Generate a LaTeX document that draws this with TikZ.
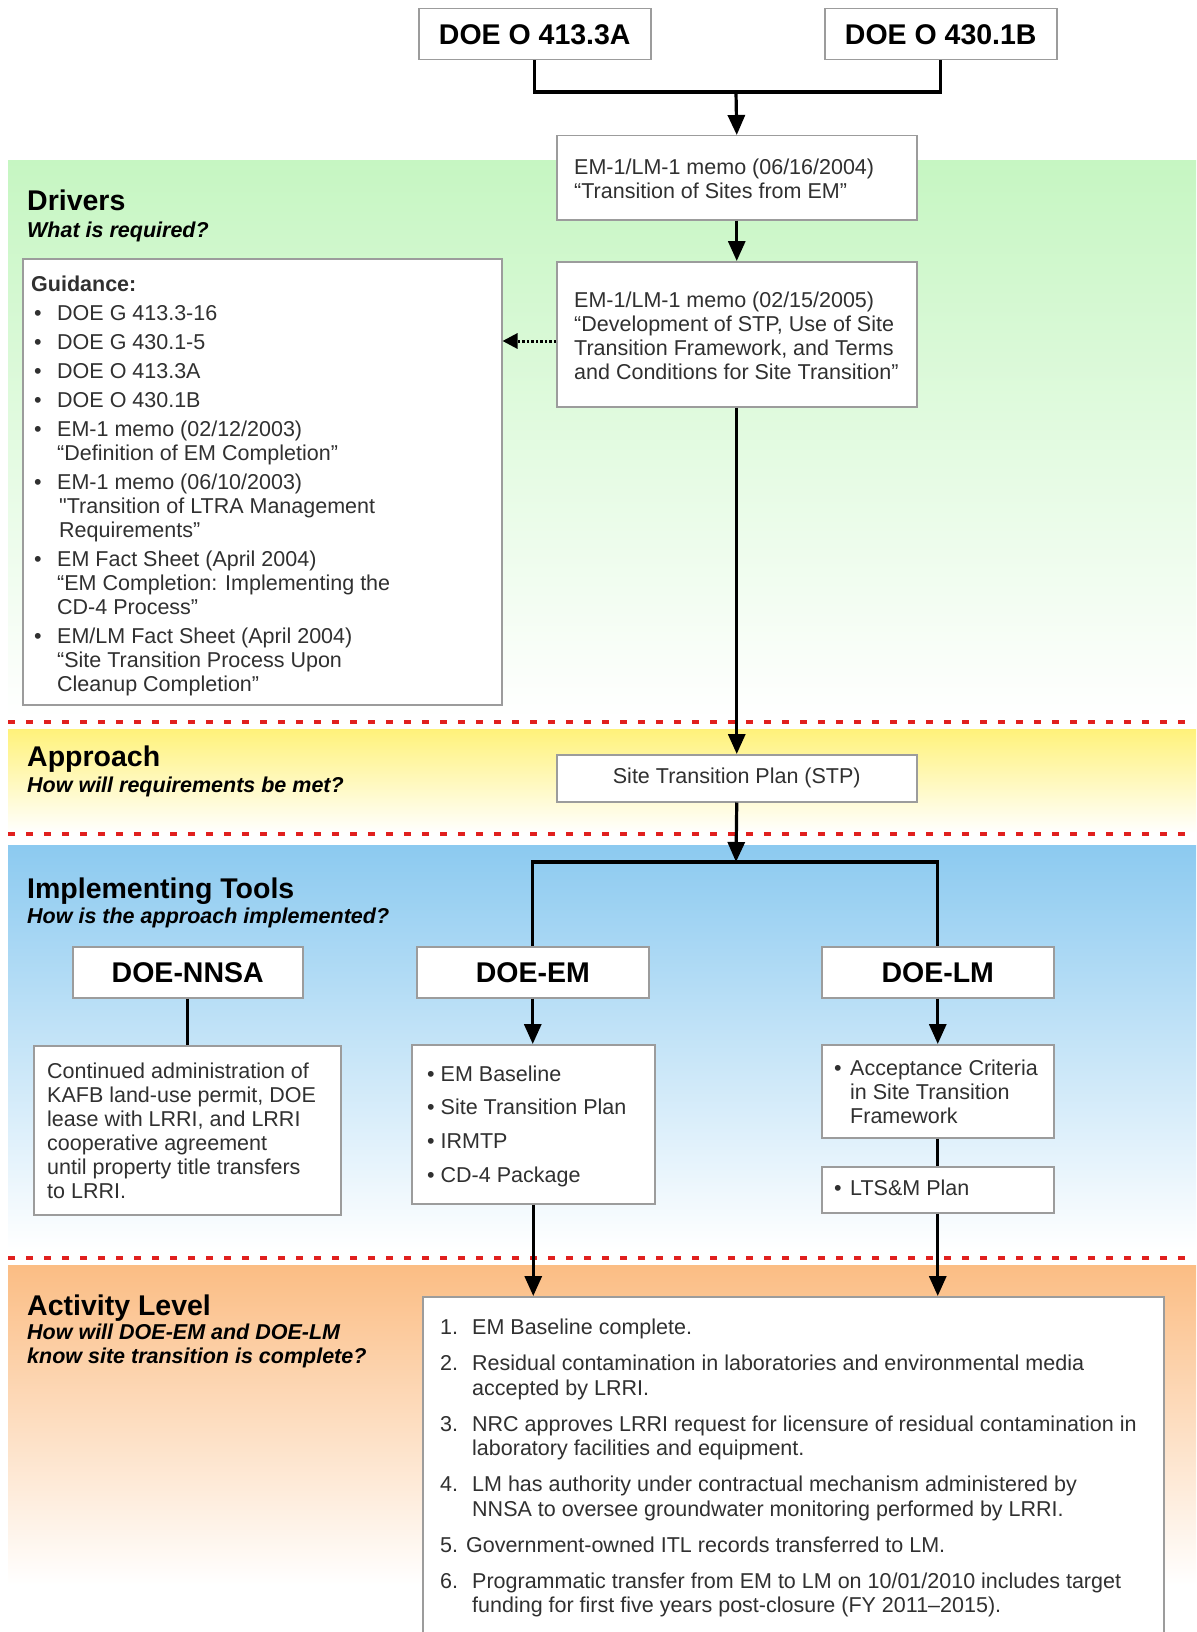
\documentclass[tikz,border=0pt]{standalone}
\usepackage{fontspec}
\setmainfont{Liberation Sans}
\newfontfamily\nomapfont{Liberation Sans}
\usetikzlibrary{arrows.meta}
\definecolor{boxgray}{HTML}{9C9C9C}
\definecolor{txtgray}{HTML}{303030}
\definecolor{dashred}{HTML}{E0201E}
\definecolor{bandgreen}{HTML}{C6F6C2}
\definecolor{bandyellow}{HTML}{FFF27A}
\definecolor{bandblue}{HTML}{8CCAF0}
\definecolor{bandorange}{HTML}{FBBD84}
\newcommand\bodyfs{\fontsize{21.5}{24}\selectfont}
\newcommand\titlefs{\fontsize{28.5}{32}\selectfont\bfseries}
\newcommand\subfs{\fontsize{21.5}{24}\selectfont\bfseries\itshape}
\newcommand\gbul{\makebox[26pt][l]{\hspace{3pt}\textbullet}}
\newcommand\gind{\hspace*{26pt}}
\newcommand\anum[1]{\makebox[32pt][l]{#1}}
\newcommand\aind{\hspace*{32pt}}
\newcommand\lbul{\makebox[16pt][l]{\textbullet}}
\begin{document}
\begin{tikzpicture}[x=1pt,y=-1pt,
  box/.style={draw=boxgray,line width=1.5pt,fill=white,inner sep=0pt,anchor=north west},
  titlebox/.style={box,font=\titlefs,text=black},
  txt/.style={inner sep=0pt,align=left,anchor=west,font=\bodyfs,text=txtgray},
  head/.style={inner sep=0pt,anchor=base west,font=\titlefs,text=black},
  subhead/.style={inner sep=0pt,anchor=base west,font=\subfs,text=black},
  conn/.style={line width=3.2pt,black,line join=miter},
  arr/.style={conn,-{Triangle[length=20pt,width=17pt]}},
  dotarr/.style={line width=3pt,black,dash pattern=on 2.5pt off 2pt,-{Triangle[length=15pt,width=15pt]}},
  reddash/.style={line width=3.5pt,dashred,dash pattern=on 7pt off 11pt}
]
\useasboundingbox (0,0) rectangle (1196,1632);
\clip (0,0) rectangle (1196,1632);
\fill[white] (0,0) rectangle (1196,1632);

% bands
\fill[top color=bandgreen,bottom color=white] (8,161) rectangle (1196,718);
\fill[top color=bandyellow,bottom color=white] (8,729) rectangle (1196,833);
\fill[top color=bandblue,bottom color=white] (8,845) rectangle (1196,1250);
\fill[top color=bandorange,bottom color=white] (8,1265) rectangle (1196,1585);

\draw[reddash] (8,722) -- (1196,722);
\draw[reddash] (8,834) -- (1196,834);
\draw[reddash] (8,1258) -- (1196,1258);

% headings
\node[head] (hdriv) at (27,211) {Drivers};
\node[subhead] (sdriv) at (27,237) {What is required?};
\node[head] (happ) at (27,766) {Approach};
\node[subhead] (sapp) at (27,792) {How will requirements be met?};
\node[head] (himp) at (27,898) {Implementing Tools};
\node[subhead] (simp) at (27,923.5) {How is the approach implemented?};
\node[head] (hact) at (27,1315) {Activity Level};
\node[subhead,anchor=north west,align=left] (sact) at (27,1324) {How will DOE-EM and DOE-LM\\know site transition is complete?};

% boxes
\node[titlebox,minimum width=232,minimum height=51] (A) at (418,8) {DOE O 413.3A};
\node[titlebox,minimum width=232,minimum height=51] (B) at (824,8) {DOE O 430.1B};
\node[box,minimum width=360,minimum height=84] (memoA) at (556,135) {};
\node[box,minimum width=360,minimum height=145] (memoB) at (556,261) {};
\node[box,minimum width=479,minimum height=446] (guid) at (22,258) {};
\node[box,minimum width=360,minimum height=47,font=\bodyfs,text=txtgray] (stp) at (556,754) {Site Transition Plan (STP)};
\node[titlebox,minimum width=230,minimum height=51] (nnsa) at (72,946) {DOE-NNSA};
\node[titlebox,minimum width=232,minimum height=51] (doeem) at (416,946) {DOE-EM};
\node[titlebox,minimum width=232,minimum height=51] (doelm) at (821,946) {DOE-LM};
\node[box,minimum width=307,minimum height=169] (nnsabox) at (33,1045) {};
\node[box,minimum width=243,minimum height=159] (embox) at (411,1044) {};
\node[box,minimum width=232,minimum height=93] (lmbox) at (821,1044) {};
\node[box,minimum width=232,minimum height=46] (ltsbox) at (821,1166) {};
\node[box,minimum width=741,minimum height=400] (actbox) at (422,1296) {};

% connectors
\coordinate (tj) at (736,92);
\coordinate (br) at (736,862);
\coordinate (m2w) at (556,341);
\draw[conn] (A.south) |- (tj) -| (B.south);
\draw[arr] (tj) -- (memoA.north);
\draw[arr] (memoA.south) -- (memoB.north);
\draw[dotarr] (m2w) -- (guid.east |- m2w);
\draw[arr] (memoB.south) -- (stp.north);
\draw[arr] (stp.south) -- (br);
\draw[conn] (doeem.north) |- (br) -| (doelm.north);
\draw[conn] (nnsa.south) -- (nnsa.south |- nnsabox.north);
\draw[arr] (doeem.south) -- (doeem.south |- embox.north);
\draw[arr] (doelm.south) -- (doelm.south |- lmbox.north);
\draw[conn] (lmbox.south) -- (ltsbox.north);
\draw[arr] (embox.south) -- (embox.south |- actbox.north);
\draw[arr] (ltsbox.south) -- (ltsbox.south |- actbox.north);

% texts
\node[txt] (memoAt) at (574,179) {EM-1/LM-1 memo (06/16/2004)\\“Transition of Sites from EM”};
\node[txt] (memoBt) at (574,335.5) {EM-1/LM-1 memo (02/15/2005)\\“Development of STP, Use of Site\\Transition Framework, and Terms\\and Conditions for Site Transition”};
\node[txt] (guidt) at (31,486) {%
\textbf{Guidance:}\\[5pt]
\gbul DOE G 413.3-16\\[5pt]
\gbul DOE G 430.1-5\\[5pt]
\gbul DOE O 413.3A\\[5pt]
\gbul DOE O 430.1B\\[5pt]
\gbul EM-1 memo (02/12/2003)\\
\gind “Definition of EM Completion”\\[5pt]
\gbul EM-1 memo (06/10/2003)\\
\hspace*{28pt}{\nomapfont"}Transition of LTRA Management\\
\hspace*{28pt}Requirements”\\[5pt]
\gbul EM Fact Sheet (April 2004)\\
\gind “EM Completion: Implementing the\\
\gind CD-4 Process”\\[5pt]
\gbul EM/LM Fact Sheet (April 2004)\\
\gind “Site Transition Process Upon\\
\gind Cleanup Completion”};
\node[txt] (nnsat) at (47,1131) {Continued administration of\\KAFB land-use permit, DOE\\lease with LRRI, and LRRI\\cooperative agreement\\until property title transfers\\to LRRI.};
\node[txt,font={\fontsize{21.5}{33.7}\selectfont}] (emt) at (427,1126) {\textbullet\ EM Baseline\\\textbullet\ Site Transition Plan\\\textbullet\ IRMTP\\\textbullet\ CD-4 Package};
\node[txt] (lmt) at (834,1092) {\lbul Acceptance Criteria\\\hspace*{16pt}in Site Transition\\\hspace*{16pt}Framework};
\node[txt] (ltst) at (834,1188) {\lbul LTS\&M Plan};
\node[txt,font={\fontsize{21.5}{24.5}\selectfont}] (actt) at (440,1468) {%
\anum{1.}EM Baseline complete.\\[11.5pt]
\anum{2.}Residual contamination in laboratories and environmental media\\
\aind accepted by LRRI.\\[11.5pt]
\anum{3.}NRC approves LRRI request for licensure of residual contamination in\\
\aind laboratory facilities and equipment.\\[11.5pt]
\anum{4.}LM has authority under contractual mechanism administered by\\
\aind NNSA to oversee groundwater monitoring performed by LRRI.\\[11.5pt]
5. Government-owned ITL records transferred to LM.\\[11.5pt]
\anum{6.}Programmatic transfer from EM to LM on 10/01/2010 includes target\\
\aind funding for first five years post-closure (FY 2011–2015).};
\end{tikzpicture}
\end{document}
